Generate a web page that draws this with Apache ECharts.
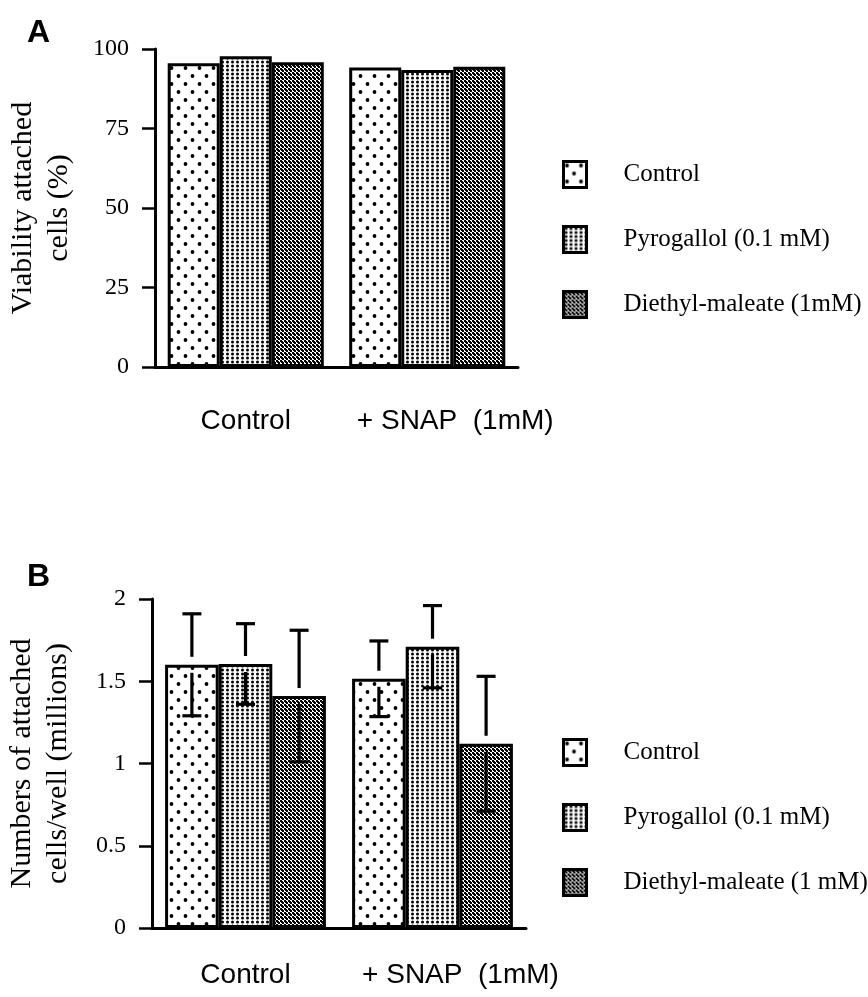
<!DOCTYPE html>
<html>
<head>
<meta charset="utf-8">
<script src="https://cdn.jsdelivr.net/npm/echarts@6/dist/echarts.min.js"></script>
<style>
  html, body { margin: 0; padding: 0; background: #fff; }
  #chart { width: 868px; height: 997px; }
</style>
</head>
<body>
<div id="chart"></div>
<script>
// Treatment groups on the x axis
const categories = ['Control', '+ SNAP  (1mM)'];

// Panel A: viability of attached cells (%)
const viabilityControl = [95.5, 94.2];
const viabilityPyrogallol = [97.7, 93.4];
const viabilityDiethyl = [95.8, 94.4];

// Panel B: numbers of attached cells per well (millions), mean and SD
const cellsControl = [1.6, 1.515];
const cellsPyrogallol = [1.605, 1.71];
const cellsDiethyl = [1.41, 1.12];
const sdControl = [0.31, 0.23];
const sdPyrogallol = [0.245, 0.25];
const sdDiethyl = [0.4, 0.41];

const namesA = ['Control', 'Pyrogallol (0.1 mM)', 'Diethyl-maleate (1mM)'];
const namesB = ['Control', 'Pyrogallol (0.1 mM)', 'Diethyl-maleate (1 mM)'];

const SERIF = 'Liberation Serif, Times New Roman, serif';
const SANS = 'Liberation Sans, Arial, Helvetica, sans-serif';
const GAP_RATIO = 0.14;

// Halftone-like fills
function makeTile(w, h, draw) {
  const c = document.createElement('canvas');
  c.width = w; c.height = h;
  const ctx = c.getContext('2d');
  ctx.fillStyle = '#fff';
  ctx.fillRect(0, 0, w, h);
  ctx.fillStyle = '#000';
  draw(ctx);
  return { image: c, repeat: 'repeat' };
}
function dot(ctx, x, y, r) {
  ctx.beginPath(); ctx.arc(x, y, r, 0, Math.PI * 2); ctx.fill();
}
const sparseDots = makeTile(14, 16, ctx => {
  dot(ctx, 3.5, 4, 1.9);
  dot(ctx, 10.5, 12, 1.9);
});
const denseDots = makeTile(5, 4, ctx => {
  dot(ctx, 2.5, 2, 1.5);
});
const checker = makeTile(4, 4, ctx => {
  ctx.fillRect(0, 0, 2, 2);
  ctx.fillRect(2, 2, 2, 2);
  ctx.fillRect(1, 1, 2, 2);
});
const fills = [sparseDots, denseDots, checker];

function barSeries(name, data, idx, fill) {
  return {
    name, type: 'bar', data,
    xAxisIndex: idx, yAxisIndex: idx,
    barGap: '0%', barCategoryGap: (GAP_RATIO * 100) + '%',
    itemStyle: { color: fill, borderColor: '#000', borderWidth: 3 },
    emphasis: { disabled: true },
    z: 2
  };
}

// Error bars: whisker above and below each bar, with a small gap at the bar top
function errorRender(params, api) {
  const cat = api.value(0), mean = api.value(1), sd = api.value(2), k = api.value(3);
  const base = api.coord([cat, mean]);
  const band = api.size([1, 0])[0];
  const bw = band * (1 - GAP_RATIO) / 3;
  const x = base[0] + (k - 1) * bw;
  const yM = base[1];
  const yU = api.coord([cat, mean + sd])[1];
  const yL = api.coord([cat, mean - sd])[1];
  const gap = 8, cap = 9.5;
  const style = { stroke: '#000', lineWidth: 3.2, fill: null };
  return {
    type: 'group',
    children: [
      { type: 'line', shape: { x1: x, y1: yM - gap, x2: x, y2: yU }, style },
      { type: 'line', shape: { x1: x - cap, y1: yU, x2: x + cap, y2: yU }, style },
      { type: 'line', shape: { x1: x, y1: yM + gap, x2: x, y2: yL }, style },
      { type: 'line', shape: { x1: x - cap, y1: yL, x2: x + cap, y2: yL }, style }
    ]
  };
}

const meansB = [cellsControl, cellsPyrogallol, cellsDiethyl];
const sdsB = [sdControl, sdPyrogallol, sdDiethyl];
const errorData = [];
for (let k = 0; k < 3; k++) {
  for (let c = 0; c < categories.length; c++) {
    errorData.push([c, meansB[k][c], sdsB[k][c], k]);
  }
}

function xAxis(gridIndex, margin) {
  return {
    type: 'category', gridIndex, data: categories,
    axisLine: { lineStyle: { color: '#000', width: 3 } },
    axisTick: { alignWithLabel: true, length: 13, lineStyle: { color: '#000', width: 3 } },
    axisLabel: {
      interval: 0, color: '#000', fontFamily: SANS, fontSize: 28, margin,
      // the second group label sits a little right of its tick
      formatter: (v, i) => (i === 1 ? '{p|}' : '') + v,
      rich: { p: { width: 56 } }
    }
  };
}
function yAxis(gridIndex, max, interval, name, nameGap) {
  return {
    type: 'value', gridIndex, min: 0, max, interval,
    name, nameLocation: 'middle', nameGap, nameRotate: 90,
    nameTextStyle: { color: '#000', fontFamily: SERIF, fontSize: 30, lineHeight: 36 },
    axisLine: { show: true, lineStyle: { color: '#000', width: 3 } },
    axisTick: { show: true, length: 13, lineStyle: { color: '#000', width: 2.5 } },
    axisLabel: { color: '#000', fontFamily: SERIF, fontSize: 24, margin: 26 },
    splitLine: { show: false }
  };
}
function legend(names, top) {
  return {
    data: names, orient: 'vertical', left: 557, top,
    icon: 'rect', itemWidth: 23, itemHeight: 26, itemGap: 36,
    selectedMode: false,
    itemStyle: { borderColor: '#000', borderWidth: 3 },
    formatter: n => '{g|}' + n,
    textStyle: {
      color: '#000', fontFamily: SERIF, fontSize: 25, lineHeight: 28,
      rich: { g: { width: 32 } }
    }
  };
}

const chart = echarts.init(document.getElementById('chart'), null, { renderer: 'canvas' });
chart.setOption({
  animation: false,
  backgroundColor: '#fff',
  title: [
    { text: 'A', left: 22, top: 12, textStyle: { fontFamily: SANS, fontWeight: 'bold', fontSize: 32, color: '#000' } },
    { text: 'B', left: 22, top: 556, textStyle: { fontFamily: SANS, fontWeight: 'bold', fontSize: 32, color: '#000' } }
  ],
  grid: [
    { left: 155, top: 49, width: 363, height: 318 },
    { left: 152, top: 599, width: 374, height: 329 }
  ],
  xAxis: [xAxis(0, 40), xAxis(1, 33)],
  yAxis: [
    yAxis(0, 100, 25, 'Viability attached\ncells (%)', 78),
    yAxis(1, 2, 0.5, 'Numbers of attached\ncells/well (millions)', 76)
  ],
  legend: [legend(namesA, 155), legend(namesB, 733)],
  series: [
    barSeries(namesA[0], viabilityControl, 0, fills[0]),
    barSeries(namesA[1], viabilityPyrogallol, 0, fills[1]),
    barSeries(namesA[2], viabilityDiethyl, 0, fills[2]),
    barSeries(namesB[0], cellsControl, 1, fills[0]),
    barSeries(namesB[1], cellsPyrogallol, 1, fills[1]),
    barSeries(namesB[2], cellsDiethyl, 1, fills[2]),
    {
      name: 'error', type: 'custom', xAxisIndex: 1, yAxisIndex: 1,
      data: errorData, encode: { x: 0, y: 1 },
      renderItem: errorRender, z: 5, silent: true
    }
  ]
});
</script>
</body>
</html>
